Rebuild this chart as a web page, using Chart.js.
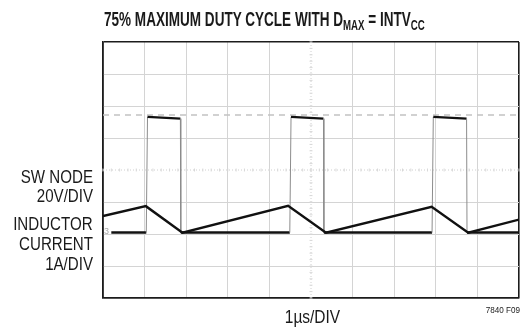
<!DOCTYPE html>
<html>
<head>
<meta charset="utf-8">
<script src="https://cdn.jsdelivr.net/npm/chart.js@4.4.1/dist/chart.umd.min.js"></script>
<style>
  html, body { margin: 0; padding: 0; background: #fff; }
  #wrap { position: relative; width: 521px; height: 328px; overflow: hidden; }
  #scope { position: absolute; left: 0; top: 0; }
  .lbl {
    position: absolute;
    font-family: "Liberation Sans", Arial, sans-serif;
    color: #1a1a1a;
    line-height: 1;
    white-space: nowrap;
  }
  /* condensed look: squeeze the regular face horizontally */
  .side { right: 428px; font-size: 18px; text-align: right; transform: scaleX(0.84); transform-origin: right center; }
  .title { left: 104px; top: 8px; font-size: 21px; font-weight: bold; transform: scaleX(0.645); transform-origin: left center; }
  .title sub { font-size: 15px; vertical-align: -4px; line-height: 0; }
  .div { font-size: 18px; top: 308px; left: 0; width: 625px; text-align: center; transform: scaleX(0.86); transform-origin: 312.5px center; }
  .fig { font-size: 9px; right: 1px; top: 306px; transform: scaleX(0.9); transform-origin: right center; }
  .gnd { font-size: 9px; color: #aaa; left: 104px; top: 227px; }
</style>
</head>
<body>
<div id="wrap">
  <canvas id="scope" width="521" height="328"></canvas>
  <div class="lbl title">75% MAXIMUM DUTY CYCLE WITH D<sub>MAX</sub> = INTV<sub>CC</sub></div>
  <div class="lbl side" style="top:167.8px">SW NODE</div>
  <div class="lbl side" style="top:187.3px">20V/DIV</div>
  <div class="lbl side" style="top:214.8px">INDUCTOR</div>
  <div class="lbl side" style="top:235.3px">CURRENT</div>
  <div class="lbl side" style="top:254.8px">1A/DIV</div>
  <div class="lbl div">1µs/DIV</div>
  <div class="lbl fig">7840 F09</div>
  <div class="lbl gnd">3</div>
</div>
<script>
// time base, 1µs per division, 10 divisions
const timeMin = 0;
const timeMax = 10;

// inductor current (A), 1A/DIV
const currentTime = [0, 1.03, 1.91, 4.45, 5.36, 7.90, 8.78, 10];
const currentAmps = [0.56, 0.87, 0.04, 0.88, 0.04, 0.85, 0.04, 0.45];

// switch node (V), 20V/DIV
const swTime = [0.2, 1.04, 1.07, 1.86, 1.87, 4.49, 4.52, 5.30, 5.31, 7.91, 7.94, 8.74, 8.75, 10];
const swVolts = [0.9, 0.9, 73.2, 72.1, 0.9, 0.9, 73.2, 72.1, 0.9, 0.9, 73.2, 72.1, 0.9, 0.9];

// cursor level on the switch node channel
const cursorTime = [0, 10];
const cursorVolts = [74.4, 74.4];

// screen ranges: 8 vertical divisions, ground two divisions up
const ampRange = [-2, 6];
const voltRange = [-40, 120];

const toXY = (xs, ys) => xs.map((x, i) => ({ x, y: ys[i] }));

const FRAME = "#1c1c1c";
const GRID = "#d4d4d4";

function gridColor(min, max, mid) {
  return (ctx) => {
    const v = ctx.tick.value;
    if (v === min || v === max) return FRAME;
    if (v === mid) return "rgba(0,0,0,0)";
    return GRID;
  };
}
function gridWidth(min, max) {
  return (ctx) => (ctx.tick.value === min || ctx.tick.value === max ? 1.6 : 1);
}

// dotted centre axes with small sub-division ticks
const centreAxes = {
  id: "centreAxes",
  beforeDatasetsDraw(chart) {
    const { ctx, chartArea: a, scales } = chart;
    const xs = scales.x, ys = scales.y;
    const cx = xs.getPixelForValue((timeMin + timeMax) / 2);
    const cy = ys.getPixelForValue((ampRange[0] + ampRange[1]) / 2);
    ctx.save();
    ctx.strokeStyle = "#d0d0d0";
    ctx.lineWidth = 1;
    ctx.setLineDash([1, 2]);
    ctx.beginPath();
    ctx.moveTo(cx, a.top); ctx.lineTo(cx, a.bottom);
    ctx.moveTo(a.left, cy); ctx.lineTo(a.right, cy);
    ctx.stroke();
    ctx.setLineDash([]);
    ctx.strokeStyle = "#d8d8d8";
    ctx.beginPath();
    for (let t = timeMin; t <= timeMax + 1e-9; t += 0.2) {
      const px = xs.getPixelForValue(t);
      ctx.moveTo(px, cy - 1.5); ctx.lineTo(px, cy + 1.5);
    }
    for (let v = ampRange[0]; v <= ampRange[1] + 1e-9; v += 0.2) {
      const py = ys.getPixelForValue(v);
      ctx.moveTo(cx - 1.5, py); ctx.lineTo(cx + 1.5, py);
    }
    ctx.stroke();
    ctx.restore();
  },
};

// fast edges of the switch node show up as thin grey lines
const isEdge = (c) => Math.abs(c.p1.parsed.x - c.p0.parsed.x) < 0.05;

new Chart(document.getElementById("scope"), {
  type: "line",
  data: {
    datasets: [
      {
        label: "Inductor current",
        data: toXY(currentTime, currentAmps),
        yAxisID: "y",
        borderColor: "#111",
        borderWidth: 2.4,
        pointRadius: 0,
        tension: 0,
      },
      {
        label: "SW node",
        data: toXY(swTime, swVolts),
        yAxisID: "ySw",
        borderColor: "#111",
        borderWidth: 2.4,
        pointRadius: 0,
        tension: 0,
        segment: {
          borderColor: (c) => (isEdge(c) ? "#8c8c8c" : "#111"),
          borderWidth: (c) => (isEdge(c) ? 1 : 2.4),
        },
      },
      {
        label: "Cursor",
        data: toXY(cursorTime, cursorVolts),
        yAxisID: "ySw",
        borderColor: "#c2c2c2",
        borderWidth: 1.5,
        borderDash: [6, 5],
        pointRadius: 0,
      },
    ],
  },
  options: {
    responsive: false,
    animation: false,
    events: [],
    layout: { padding: { left: 103, top: 42, right: 2, bottom: 30 } },
    plugins: { legend: { display: false }, tooltip: { enabled: false } },
    scales: {
      x: {
        type: "linear",
        min: timeMin,
        max: timeMax,
        ticks: { display: false, stepSize: 1 },
        grid: {
          drawTicks: false,
          color: gridColor(timeMin, timeMax, 5),
          lineWidth: gridWidth(timeMin, timeMax),
        },
        border: { display: true, color: FRAME, width: 1.6 },
      },
      y: {
        min: ampRange[0],
        max: ampRange[1],
        ticks: { display: false, stepSize: 1 },
        grid: {
          drawTicks: false,
          color: gridColor(ampRange[0], ampRange[1], 2),
          lineWidth: gridWidth(ampRange[0], ampRange[1]),
        },
        border: { display: true, color: FRAME, width: 1.6 },
      },
      ySw: {
        display: false,
        min: voltRange[0],
        max: voltRange[1],
      },
    },
  },
  plugins: [centreAxes],
});
</script>
</body>
</html>
